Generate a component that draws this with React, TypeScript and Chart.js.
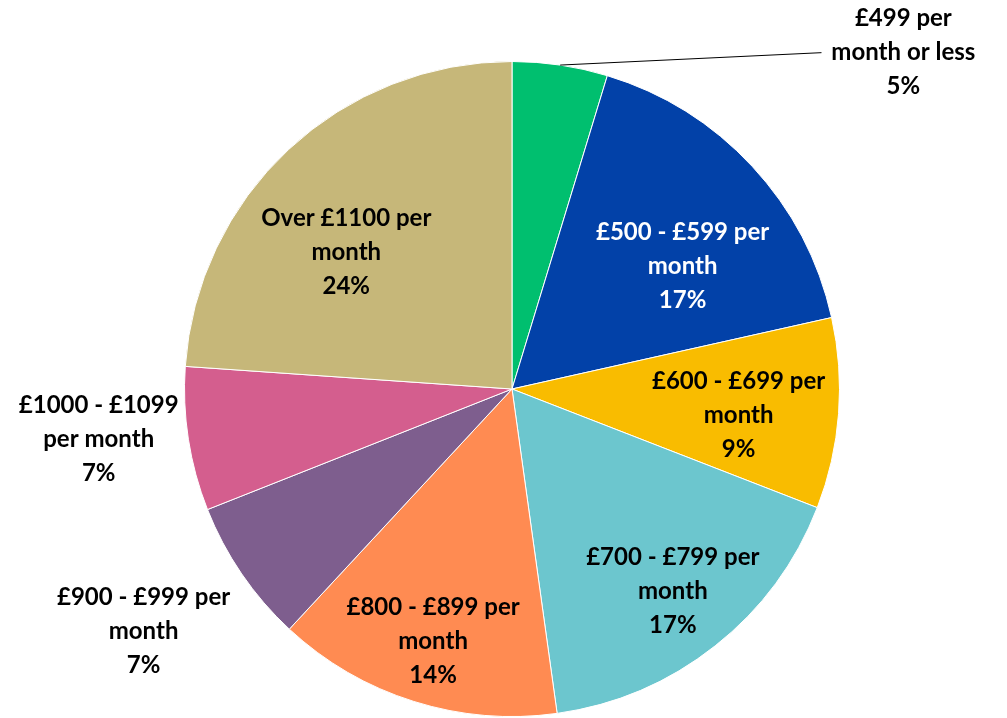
import React, { useEffect, useRef } from "react";
import { Chart, registerables } from "chart.js";

Chart.register(...registerables);

const categories = [
  "£499 per month or less",
  "£500 - £599 per month",
  "£600 - £699 per month",
  "£700 - £799 per month",
  "£800 - £899 per month",
  "£900 - £999 per month",
  "£1000 - £1099 per month",
  "Over £1100 per month",
];
const values = [4.7, 16.8, 9.4, 16.9, 14.1, 7.1, 7.1, 23.9];
const percentLabels = ["5%", "17%", "9%", "17%", "14%", "7%", "7%", "24%"];
const labelLines = [
  ["£499 per", "month or less"],
  ["£500 - £599 per", "month"],
  ["£600 - £699 per", "month"],
  ["£700 - £799 per", "month"],
  ["£800 - £899 per", "month"],
  ["£900 - £999 per", "month"],
  ["£1000 - £1099", "per month"],
  ["Over £1100 per", "month"],
];
const colors = [
  "#00BF6F",
  "#0241A8",
  "#F9BC00",
  "#6CC6CE",
  "#FF8B52",
  "#7E5E8E",
  "#D45E8E",
  "#C6B779",
];
const textColors = ["#000", "#fff", "#000", "#000", "#000", "#000", "#000", "#000"];
// label anchor (middle line) in radius units relative to pie centre
const labelAnchors = [
  [1.195, -1.027],
  [0.521, -0.375],
  [0.692, 0.079],
  [0.491, 0.619],
  [-0.241, 0.771],
  [-1.125, 0.741],
  [-1.262, 0.155],
  [-0.506, -0.418],
];
// leader line end for the first slice (radius units)
const leaderEnd = [0.945, -1.027];

const labelPlugin = {
  id: "sliceLabels",
  afterDatasetsDraw(chart: any) {
    const ctx = chart.ctx;
    const meta = chart.getDatasetMeta(0);
    const arc0 = meta.data[0];
    const cx = arc0.x;
    const cy = arc0.y;
    const r = arc0.outerRadius;
    ctx.save();
    const a0 = (arc0.startAngle + arc0.endAngle) / 2;
    ctx.beginPath();
    ctx.strokeStyle = "#000";
    ctx.lineWidth = 1;
    ctx.moveTo(cx + Math.cos(a0) * r, cy + Math.sin(a0) * r);
    ctx.lineTo(cx + leaderEnd[0] * r, cy + leaderEnd[1] * r);
    ctx.stroke();

    ctx.font = "bold 24px Lato, 'Open Sans', sans-serif";
    ctx.textAlign = "center";
    ctx.textBaseline = "middle";
    const lh = 34;
    labelAnchors.forEach((a, i) => {
      const x = cx + a[0] * r;
      const y = cy + a[1] * r;
      const lines = [...labelLines[i], percentLabels[i]];
      ctx.fillStyle = textColors[i];
      lines.forEach((t, j) => {
        ctx.fillText(t, x, y + (j - 1) * lh);
      });
    });
    ctx.restore();
  },
};

export default function App() {
  const ref = useRef<HTMLCanvasElement>(null);
  useEffect(() => {
    if (!ref.current) return;
    const chart = new Chart(ref.current, {
      type: "pie",
      data: {
        labels: categories,
        datasets: [
          {
            data: values,
            backgroundColor: colors,
            borderColor: "#ffffff",
            borderWidth: 1,
          },
        ],
      },
      options: {
        animation: false,
        responsive: false,
        maintainAspectRatio: false,
        layout: { padding: { top: 61, bottom: 1, left: 184, right: 167 } },
        plugins: {
          legend: { display: false },
          tooltip: { enabled: false },
        },
      },
      plugins: [labelPlugin],
    });
    return () => chart.destroy();
  }, []);
  return (
    <div style={{ position: "fixed", left: 0, top: 0, width: 1007, height: 718, background: "#fff" }}>
      <canvas ref={ref} width={1007} height={718} style={{ width: 1007, height: 718 }} />
    </div>
  );
}
